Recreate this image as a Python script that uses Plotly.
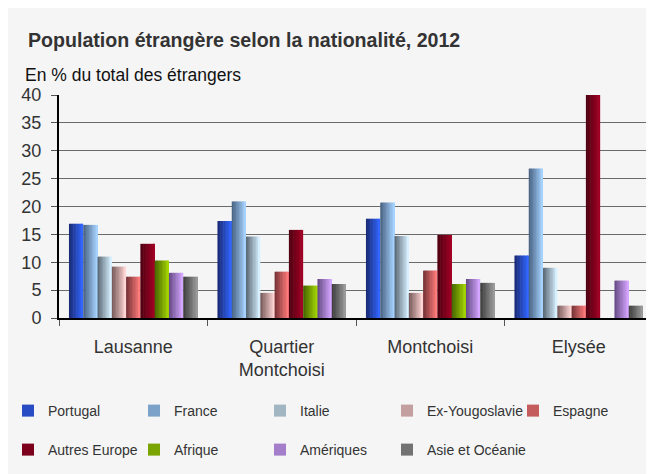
import plotly.graph_objects as go

categories = ["Lausanne", "Quartier<br>Montchoisi", "Montchoisi", "Elysée"]
series_names = ["Portugal", "France", "Italie", "Ex-Yougoslavie", "Espagne",
                "Autres Europe", "Afrique", "Amériques", "Asie et Océanie"]
portugal = [16.9, 17.4, 17.8, 11.2]
france = [16.7, 20.9, 20.7, 26.8]
italie = [11.0, 14.6, 14.7, 9.0]
ex_yougoslavie = [9.2, 4.5, 4.5, 2.2]
espagne = [7.4, 8.3, 8.5, 2.2]
autres_europe = [13.3, 15.8, 14.9, 40.0]
afrique = [10.3, 5.8, 6.1, 0.0]
ameriques = [8.1, 7.0, 7.0, 6.7]
asie_oceanie = [7.4, 6.1, 6.3, 2.2]
values = [portugal, france, italie, ex_yougoslavie, espagne,
          autres_europe, afrique, ameriques, asie_oceanie]
y_ticks = [0, 5, 10, 15, 20, 25, 30, 35, 40]

# gradient endpoints (dark left -> light right)
grad = [
    ((0x1a, 0x2c, 0x78), (0x33, 0x66, 0xff)),
    ((0x4a, 0x65, 0x85), (0xa6, 0xd2, 0xff)),
    ((0x5e, 0x6c, 0x78), (0xd6, 0xf0, 0xff)),
    ((0x7a, 0x5c, 0x5c), (0xff, 0xd4, 0xd4)),
    ((0x7a, 0x34, 0x38), (0xff, 0x7a, 0x7a)),
    ((0x50, 0x00, 0x12), (0xa0, 0x00, 0x24)),
    ((0x48, 0x68, 0x00), (0xa2, 0xd4, 0x00)),
    ((0x68, 0x4c, 0x88), (0xd4, 0xa6, 0xff)),
    ((0x40, 0x40, 0x40), (0x9a, 0x9a, 0x9a)),
]

def mix(c1, c2, t):
    return "rgb(%d,%d,%d)" % tuple(round(a + (b - a) * t) for a, b in zip(c1, c2))

PW, PH = 595, 223  # plot area size in px
legend_cols = [28, 154, 280, 407, 533]
legend_rows = [411, 450]

fig = go.Figure()
bar_w = 0.0962
start = -0.433
S = 10
legend_layouts = {}
for i, (name, vals) in enumerate(zip(series_names, values)):
    c1, c2 = grad[i]
    lname = "legend" if i == 0 else "legend%d" % (i + 1)
    col = i % 5
    row = i // 5
    legend_layouts[lname] = dict(
        orientation="h", x=(legend_cols[col] - 20 - 58) / PW, xanchor="left",
        y=(318 - legend_rows[row]) / PH, yanchor="middle",
        font=dict(size=14, color="#333333"), bgcolor="rgba(0,0,0,0)",
        itemwidth=30, borderwidth=0,
    )
    for k in range(S):
        t = k / (S - 1)
        fig.add_trace(go.Bar(
            x=categories, y=vals, name=name,
            width=bar_w / S + (0.004 if k < S - 1 else 0),
            offset=start + i * bar_w + k * bar_w / S,
            marker=dict(color=mix(c1, c2, t), line=dict(width=0)),
            showlegend=(k == S // 2),
            legend=lname,
            legendgroup=name,
            hoverinfo="x+y+name",
        ))

fig.update_layout(
    width=646, height=466,
    paper_bgcolor="#f5f5f5",
    plot_bgcolor="#f5f5f5",
    margin=dict(l=50, r=1, t=87, b=156),
    barmode="overlay",
    font=dict(family="Liberation Sans, Arial, sans-serif", color="#333333"),
    xaxis=dict(
        type="category", showgrid=False, showline=True, linecolor="black", linewidth=2,
        ticks="outside", tickson="boundaries", ticklen=6, tickcolor="#555",
        tickfont=dict(size=18, color="#333333"), ticklabelstandoff=11,
    ),
    yaxis=dict(
        range=[0, 40], tickvals=y_ticks, showline=True, linecolor="black", linewidth=2,
        ticks="outside", ticklen=6, tickcolor="#555", ticklabelstandoff=6,
        gridcolor="#6a6a6a", gridwidth=1,
        tickfont=dict(size=18, color="#333333"), zeroline=False,
    ),
    shapes=[
        dict(type="line", xref="paper", yref="paper", x0=1, x1=1, y0=0, y1=1,
             line=dict(color="#888", width=1.5)),
    ],
    annotations=[
        dict(text="<b>Population étrangère selon la nationalité, 2012</b>",
             xref="paper", yref="paper", x=(25 - 58) / PW, y=(318 - 40) / PH,
             xanchor="left", yanchor="middle", showarrow=False,
             font=dict(size=19.6, color="#333333")),
        dict(text="En % du total des étrangers",
             xref="paper", yref="paper", x=(22 - 58) / PW, y=(318 - 75) / PH,
             xanchor="left", yanchor="middle", showarrow=False,
             font=dict(size=17.5, color="#111111")),
    ],
)
fig.update_layout(**legend_layouts)

fig.write_html("out.html")
